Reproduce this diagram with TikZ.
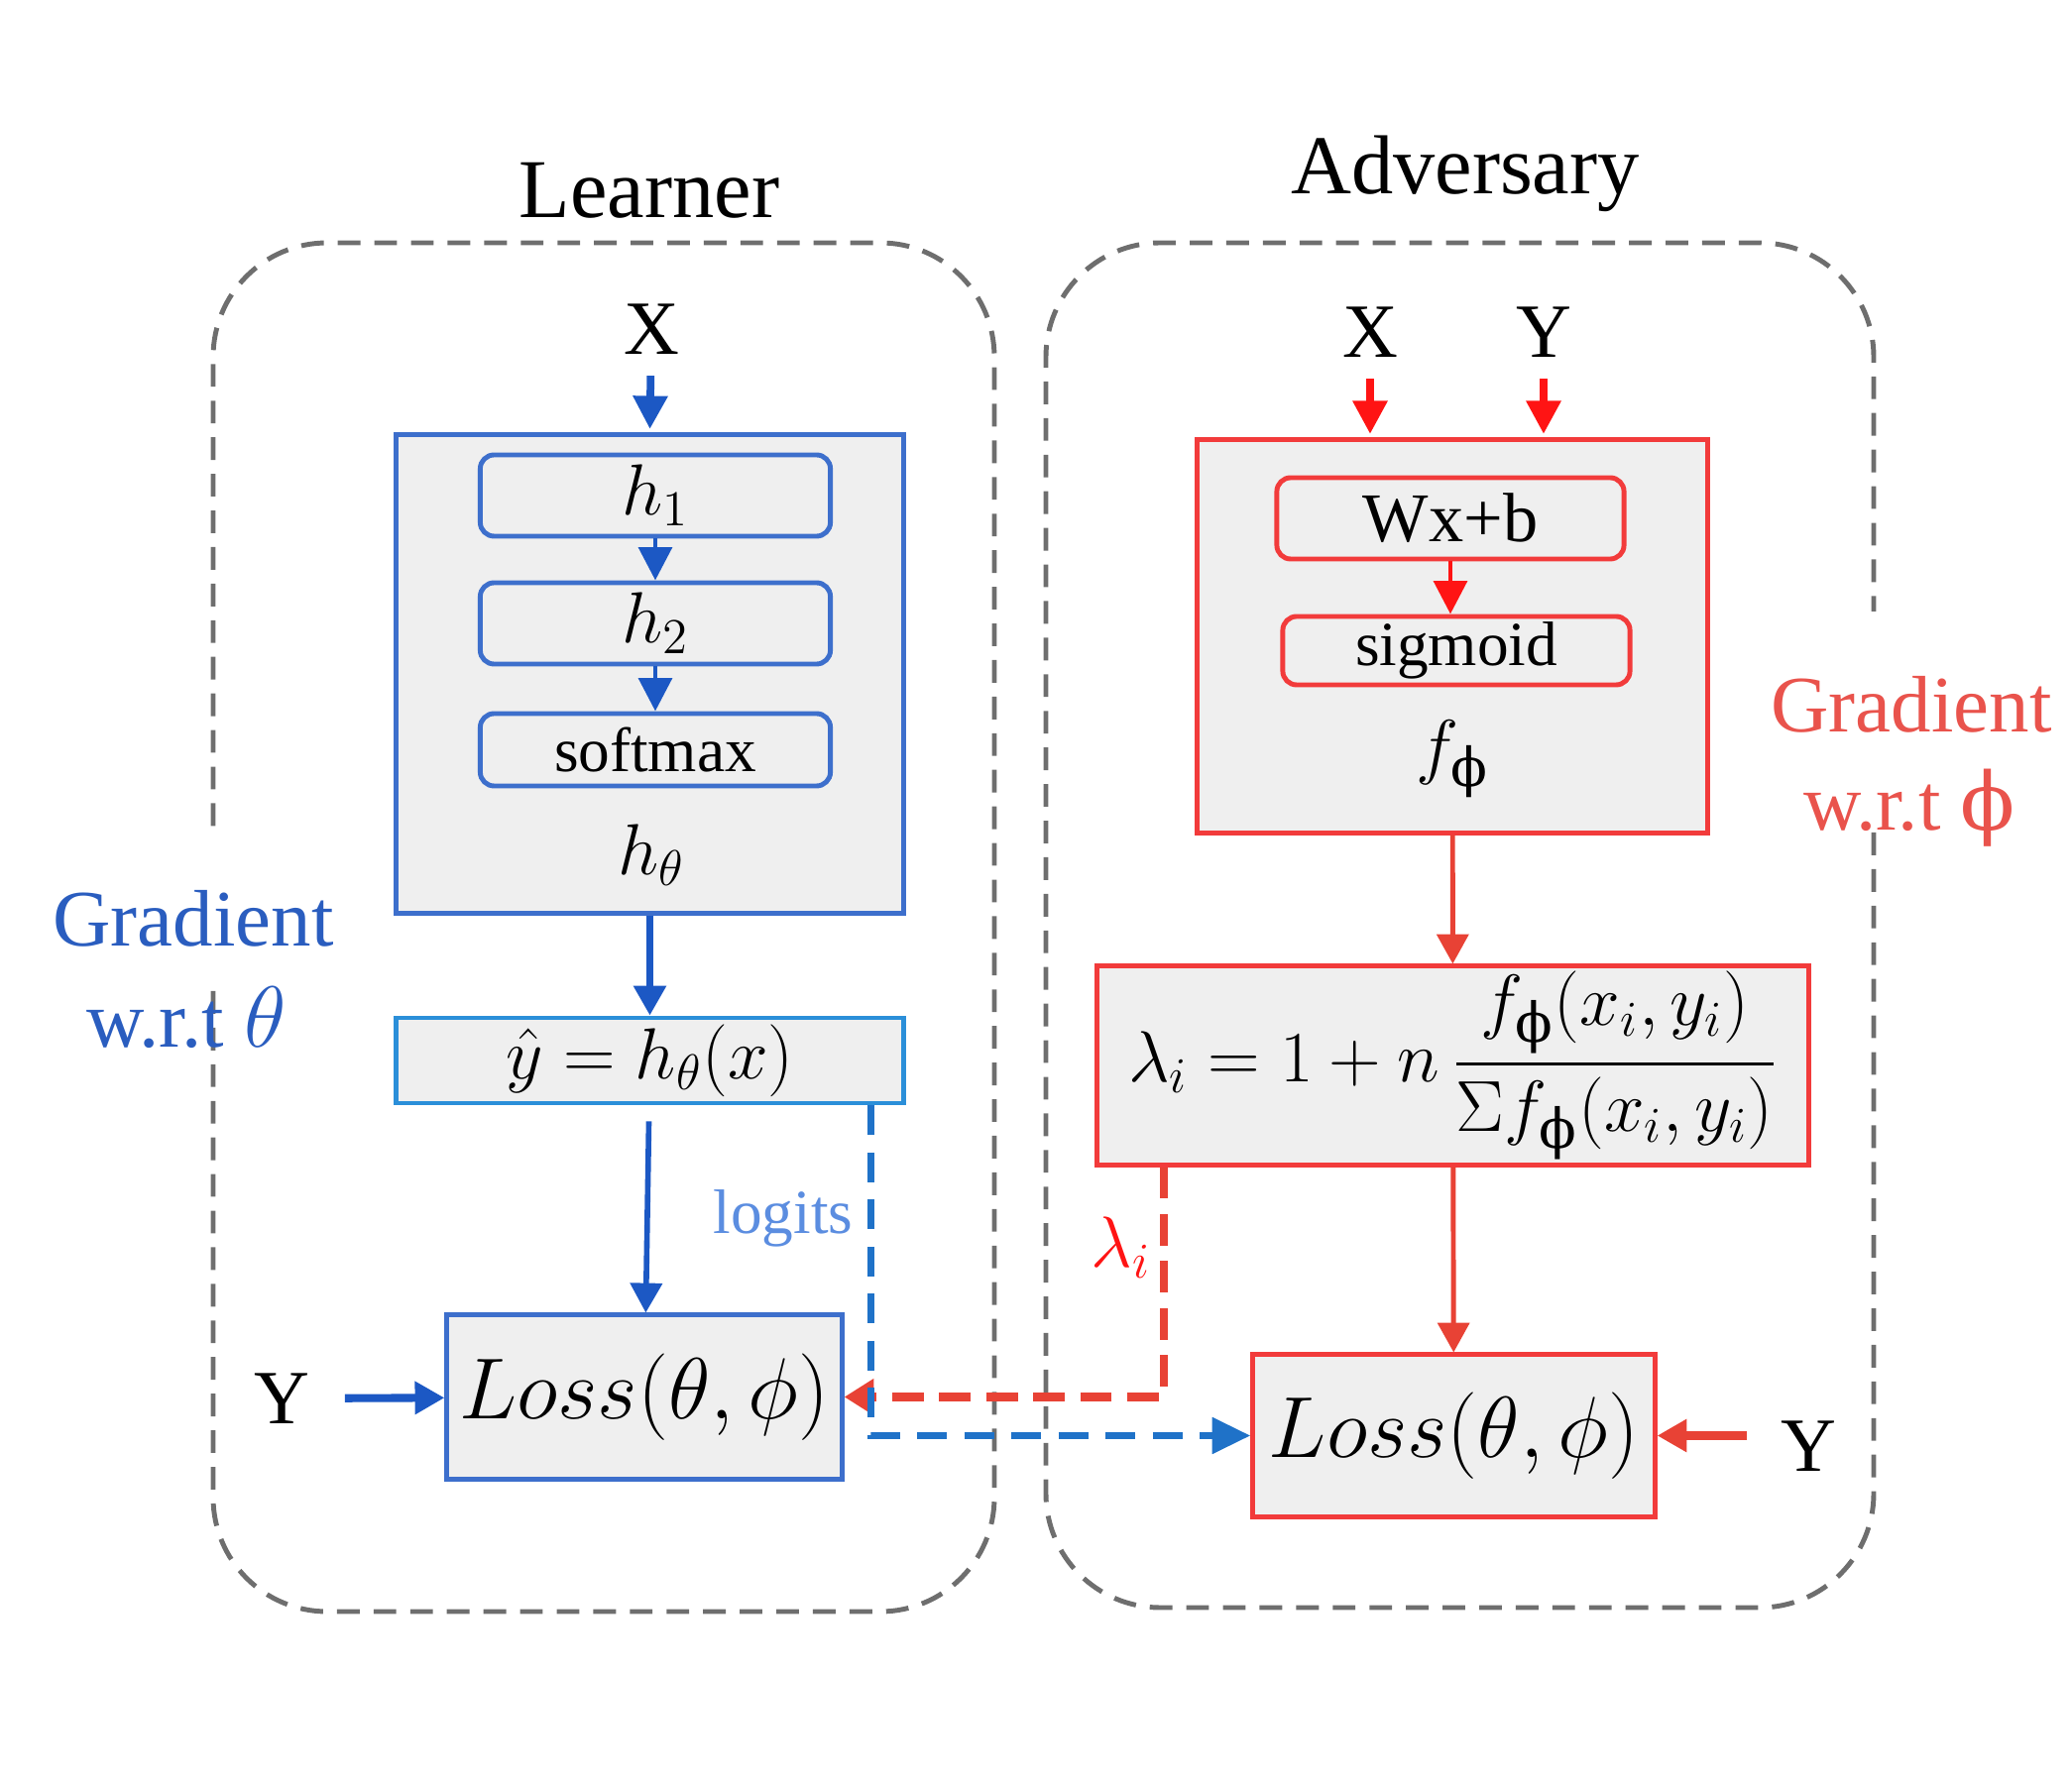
\documentclass[tikz,border=0pt]{standalone}
\usepackage{amsmath}
\usepackage{fontspec}
\setmainfont{Liberation Serif}
\newfontfamily\dvs{DejaVu Serif}
\usetikzlibrary{arrows.meta}
\definecolor{bbox}{HTML}{3D6FCC}
\definecolor{barrow}{HTML}{1C58C4}
\definecolor{ybox}{HTML}{2B8FD9}
\definecolor{bdash}{HTML}{1F72C8}
\definecolor{btext}{HTML}{2A5DBF}
\definecolor{ltext}{HTML}{5B8DE0}
\definecolor{rbox}{HTML}{F23B3B}
\definecolor{rarrow}{HTML}{E84235}
\definecolor{rin}{HTML}{FF1414}
\definecolor{rtext}{HTML}{E9534C}
\definecolor{gfill}{HTML}{EFEFEF}
\definecolor{dgray}{HTML}{6E6E6E}
\newcommand{\fs}[1]{\fontsize{#1}{#1}\selectfont}
\newcommand{\uphi}{\text{\dvs ϕ}}
\begin{document}
\begin{tikzpicture}[x=0.01cm,y=-0.01cm,
  dbox/.style={draw=dgray, line width=1.4pt, dash pattern=on 6.5pt off 4pt, rounded corners=1.15cm},
  outerbox/.style={draw, fill=gfill, line width=1.4pt, inner sep=0pt},
  innerbox/.style={draw, fill=gfill, line width=1.4pt, rounded corners=0.14cm, inner sep=0pt},
  lbl/.style={inner sep=0pt},
  tipA/.style={-{Triangle[length=8.5pt,width=9pt]}},
  tipB/.style={-{Triangle[length=9.5pt,width=9.5pt]}},
  blarrow/.style={tipA, draw=barrow, line width=1.8pt},
  rdarrow/.style={tipA, draw=rarrow, line width=1.4pt},
  inarrowb/.style={tipB, draw=barrow, line width=2.2pt},
  inarrowr/.style={tipB, draw=rin, line width=2.2pt},
]
\useasboundingbox (0,0) rectangle (2090,1801);

% dashed containers
\draw[dbox] (215,1000) -- (215,1626) -- (1003,1626) -- (1003,245) -- (215,245) -- (215,835);
\draw[dbox] (1890,840) -- (1890,1622) -- (1055,1622) -- (1055,245) -- (1890,245) -- (1890,617);

% titles
\node[lbl, font=\fs{24}] (tl) at (655,192) {Learner};
\node[lbl, font=\fs{24}] (ta) at (1478,175) {Adversary};

% gradient labels
\node[lbl, font=\fs{23}, text=btext] (gl1) at (195,927) {Gradient};
\node[lbl, font=\fs{23}, text=btext] (gl2) at (188,1027) {w.r.t $\theta$};
\node[lbl, font=\fs{23}, text=rtext] (gr1) at (1928,711) {Gradient};
\node[lbl, font=\fs{23}, text=rtext] (gr2) at (1926,815) {w.r.t {\dvs ϕ}};

% ---------- Learner ----------
\node[lbl, font=\fs{22}] (xl) at (657,332) {X};
\node[outerbox, draw=bbox, minimum width=5.11cm, minimum height=4.82cm] (ht) at (655.5,680) {};
\node[innerbox, draw=bbox, minimum width=3.53cm, minimum height=0.82cm, font=\fs{22}] (h1) at (661,500) {$h_1$};
\node[innerbox, draw=bbox, minimum width=3.53cm, minimum height=0.82cm, font=\fs{22}] (h2) at (661,629) {$h_2$};
\node[innerbox, draw=bbox, minimum width=3.53cm, minimum height=0.73cm, font=\fs{18}] (sm) at (661,756.5) {softmax};
\node[lbl, font=\fs{22}] (htl) at (657,863) {$h_\theta$};

\node[outerbox, draw=ybox, minimum width=5.11cm, minimum height=0.86cm, font=\fs{22}] (yh) at (655.5,1070) {$\hat{y} = h_\theta(x)$};
\node[outerbox, draw=bbox, minimum width=3.98cm, minimum height=1.65cm, font=\fs{23}] (loss1) at (650,1409.5) {$Loss(\theta,\phi)$};
\node[lbl, font=\fs{22}] (yl) at (284,1411) {Y};
\node[lbl, font=\fs{18}, text=ltext] (lg) at (790,1229) {logits};

\draw[inarrowb, shorten <=6pt, shorten >=1pt] (xl) -- (ht.north);
\draw[inarrowb, line width=1.4pt] (h1) -- (h2);
\draw[inarrowb, line width=1.4pt] (h2) -- (sm);
\draw[blarrow, line width=2pt] (ht) -- (yh);
\draw[blarrow, line width=1.6pt, shorten <=4.5pt] (yh) -- (loss1);
\draw[blarrow, line width=2.3pt, shorten <=10pt] (yl) -- (loss1);

% ---------- Adversary ----------
\node[lbl, font=\fs{22}] (xa) at (1382,335) {X};
\node[lbl, font=\fs{22}] (ya) at (1557,335) {Y};
\node[outerbox, draw=rbox, minimum width=5.14cm, minimum height=3.96cm] (fb) at (1465,642) {};
\node[innerbox, draw=rbox, minimum width=3.5cm, minimum height=0.82cm, font=\fs{20}] (wx) at (1463,523) {Wx+b};
\node[innerbox, draw=rbox, minimum width=3.5cm, minimum height=0.69cm, font=\fs{18}] (sg) at (1469,656.5) {sigmoid};
\node[lbl, font=\fs{22}] (fbl) at (1465,766) {$f_{\uphi}$};

\node[outerbox, draw=rbox, minimum width=7.17cm, minimum height=2.0cm, font=\fs{22.5}] (lam) at (1465.5,1075) {$\displaystyle \lambda_i = 1 + n\,\frac{f_{\uphi}(x_i,y_i)}{\Sigma f_{\uphi}(x_i,y_i)}$};
\node[outerbox, draw=rbox, minimum width=4.05cm, minimum height=1.63cm, font=\fs{23}] (loss2) at (1466.5,1448.5) {$Loss(\theta,\phi)$};
\node[lbl, font=\fs{22}] (yr) at (1824,1459) {Y};
\node[lbl, font=\fs{20}, text=rin] (lil) at (1131,1259) {$\lambda_i$};

\draw[inarrowr, shorten <=6pt, shorten >=1pt] (xa) -- (xa |- fb.north);
\draw[inarrowr, shorten <=6pt, shorten >=1pt] (ya) -- (ya |- fb.north);
\draw[inarrowr, line width=1.4pt] (wx) -- (wx |- sg.north);
\draw[rdarrow] (fb) -- (lam);
\draw[rdarrow] (lam) -- (loss2);
\draw[rdarrow, line width=2.3pt, shorten <=9.5pt] (loss2.east -| yr.west) -- (loss2.east);

% dashed connectors
\draw[-{Triangle[length=8.5pt,width=10pt]}, draw=rarrow, line width=2.3pt, dash pattern=on 9pt off 4.5pt] (lam.south west) ++(70,0) |- (loss1.east);
\draw[-{Triangle[length=11pt,width=10pt]}, draw=bdash, line width=2.2pt, dash pattern=on 8.5pt off 5pt] (yh.south east) ++(-35,0) |- (loss2.west);
\end{tikzpicture}
\end{document}
